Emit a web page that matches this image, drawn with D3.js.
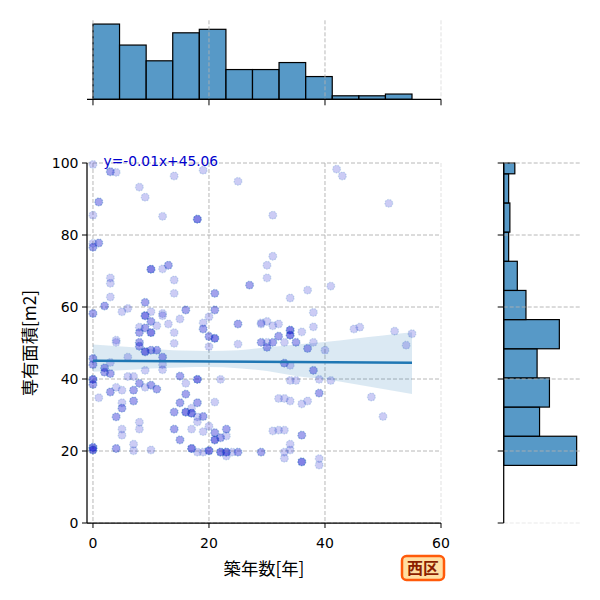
<!DOCTYPE html>
<html><head><meta charset="utf-8">
<script src="https://cdn.jsdelivr.net/npm/d3@7"></script>
<style>body{margin:0;background:#fff}svg{display:block}</style>
</head><body>
<svg id="c" width="600" height="600"></svg>
<script>
// ---- data ----
// scatter points: [築年数, 専有面積, overlap multiplicity]
const pts = [
[0,99.6,1],[3,97.6,2],[4,97.4,1],[14,96.4,1],[19,98.0,1],[25,94.9,1],[8,93.3,1],[9,90.5,1],[1,89.2,2],[0,85.5,1],
[12,85.2,1],[18,84.4,3],[0,76.6,2],[1,77.8,2],[0,77.7,1],[10,70.5,3],[12,70.6,1],[13,71.6,2],[3,68.1,1],[3,66.6,1],
[14,67.5,1],[14,63.8,1],[3,62.8,1],[21,63.8,2],[27,66.1,2],[2,60.3,2],[9,61.3,2],[0,58.2,2],[5,58.7,1],[6,59.6,1],
[9,57.6,3],[10,56.0,2],[10,58.7,1],[12,58.2,1],[12,57.6,1],[11,54.8,1],[13,55.3,1],[15,56.7,1],[16,59.2,2],[8,54.4,1],
[8,52.9,2],[9,54.2,2],[10,52.9,3],[14,52.9,1],[19,55.6,1],[19,53.9,2],[20,57.3,1],[21,59.2,2],[25,55.3,2],[29,55.3,1],
[20,51.8,2],[21,51.3,3],[4,50.8,1],[20,49.0,1],
[42,98.3,1],[43,96.4,1],[51,88.8,1],[31,85.5,1],[31,74.1,1],[30,71.6,1],[30,68.1,1],[37,64.7,1],[34,62.5,1],[41,65.8,1],
[38,58.5,1],[29,55.6,1],[30,56.0,1],[31,54.8,1],[32,55.3,1],[34,53.6,3],[34,52.2,3],[36,53.1,1],[38,54.5,1],[45,53.9,1],
[46,54.4,1],[52,53.3,1],[55,52.6,1],[32,51.9,2],
[0,45.7,2],[0,44.0,2],[4,50.2,1],[8,50.2,2],[8,49.1,2],[9,47.6,3],[10,48.0,2],[11,48.0,2],[6,46.1,1],[12,46.1,2],
[12,44.0,1],[12,42.6,1],[9,42.4,1],[2,43.1,2],[2,41.9,2],[3,41.5,2],[3,44.6,1],[6,40.7,1],[7,40.7,1],[0,39.9,3],
[0,38.5,2],[3,36.4,2],[4,37.7,1],[5,36.9,1],[7,36.9,2],[8,38.8,2],[9,37.7,1],[10,38.3,2],[11,37.2,2],[1,34.8,1],
[5,33.4,1],[5,31.9,2],[4,29.5,2],[7,33.9,2],[5,26.1,1],[5,24.4,1],[8,28.0,1],[8,26.1,1],[0,21.0,3],[0,20.3,3],
[4,20.7,2],[7,21.9,1],[7,20.1,1],[10,20.3,1],[15,40.8,2],[16,38.8,1],[18,39.9,3],[22,39.9,1],[16,35.8,2],[15,33.4,2],
[18,33.4,2],[21,33.6,1],[14,30.8,2],[16,30.8,3],[17,30.5,3],[17,31.9,1],[18,29.5,1],[18,28.1,1],[19,29.6,2],[14,26.1,2],
[17,26.1,1],[19,25.4,1],[20,26.9,1],[21,25.1,2],[21,23.1,3],[22,23.7,2],[23,26.1,2],[23,24.2,1],[15,23.1,2],[17,20.7,3],
[18,19.7,1],[19,19.7,1],[20,20.1,3],[22,19.7,3],[23,19.7,3],[23,18.6,1],[24,19.7,1],[25,19.7,2],[29,19.7,2],[14,49.9,1],
[25,49.7,1],[29,50.2,2],
[30,50.2,1],[30,48.8,2],[31,50.2,2],[33,50.2,1],[35,50.2,2],[37,48.5,2],[38,50.2,1],[40,48.0,1],[54,49.4,1],[33,44.4,2],
[34,43.8,1],[38,42.4,2],[34,39.6,1],[35,39.6,1],[39,39.9,1],[41,39.6,1],[39,36.1,2],[32,34.6,1],[33,34.6,1],[34,33.9,1],
[36,33.1,1],[37,33.9,1],[48,35.0,1],[50,29.6,1],[31,25.6,1],[32,25.8,1],[33,25.8,1],[36,24.4,2],[34,21.9,1],[34,20.3,1],
[33,19.7,1],[33,18.0,1],[36,17.0,3],[39,17.9,1],[39,16.1,1]
];
// marginal histogram of 築年数
const xBinEdges = [0,4.58,9.17,13.75,18.33,22.92,27.5,32.08,36.67,41.25,45.83,50.42,55];
const xBinCounts = [43,31,22,38,40,17,17,21,13,2,2,3];
// marginal histogram of 専有面積
const yBinEdges = [16.0,24.1,32.2,40.3,48.4,56.5,64.6,72.7,80.8,88.9,97.0,105.1];
const yBinCounts = [59,29,37,27,45,18,11,4,5,4,9];
// regression line and its confidence band
const regSlope = -0.01, regIntercept = 45.06, regXRange = [0,55];
const bandX     = [0,5,10,15,20,25,30,35,40,45,50,55];
const bandUpper = [49.6,49.0,48.4,47.9,47.8,48.0,48.8,49.6,50.3,51.2,52.1,53.0];
const bandLower = [42.0,42.4,42.9,43.2,43.3,43.0,42.2,40.8,39.9,38.6,37.2,35.8];
const xTicks = [0,20,40,60];
const yTicks = [0,20,40,60,80,100];
const xLabel = "築年数[年]", yLabel = "専有面積[m2]";
const eqText = "y=-0.01x+45.06";
const areaLabel = "西区";

// ---- drawing ----
const svg = d3.select("#c");
const L=87, R=441, T=163, B=523;
const x = d3.scaleLinear().domain([-1.03,60]).range([L,R]);
const y = d3.scaleLinear().domain([0,100]).range([B,T]);
const topB = 99.3, topT = 20.3;
const hy = d3.scaleLinear().domain([0, d3.max(xBinCounts)*1.05]).range([topB, topT]);
const rL = 503.7, rR = 580.3;
const hx = d3.scaleLinear().domain([0, d3.max(yBinCounts)*1.05]).range([rL, rR]);
const numFont = "'DejaVu Sans', sans-serif";
const jpFont = "'Noto Sans CJK JP', 'DejaVu Sans', sans-serif";
const gridCol = "#b0b0b0", dash = "4,2";
const C0 = "#1f77b4";

// main grid
const g = svg.append("g");
xTicks.forEach(t => g.append("line").attr("x1",x(t)).attr("x2",x(t)).attr("y1",T).attr("y2",B)
  .attr("stroke",gridCol).attr("stroke-width",0.9).attr("stroke-dasharray",dash).attr("opacity", t===60?0.4:1));
yTicks.forEach(t => g.append("line").attr("x1",L).attr("x2",R).attr("y1",y(t)).attr("y2",y(t))
  .attr("stroke",gridCol).attr("stroke-width",0.9).attr("stroke-dasharray",dash));

// CI band
const bandData = bandX.map((v,i)=>({x:v,lo:bandLower[i],hi:bandUpper[i]}));
g.append("path").datum(bandData)
  .attr("d", d3.area().x(d=>x(d.x)).y0(d=>y(d.lo)).y1(d=>y(d.hi)).curve(d3.curveMonotoneX))
  .attr("fill", C0).attr("fill-opacity",0.16);

// points
const flat = [];
pts.forEach(p => { for (let k=0;k<p[2];k++) flat.push(p); });
g.append("g").selectAll("circle").data(flat).join("circle")
  .attr("cx", d=>x(d[0])).attr("cy", d=>y(d[1])).attr("r",3.9)
  .attr("fill","#0000cd").attr("fill-opacity",0.2)
  .attr("stroke",C0).attr("stroke-opacity",0.2).attr("stroke-width",1.3).attr("stroke-dasharray","1.5,1.2");

// regression line
g.append("line").attr("x1",x(regXRange[0])).attr("x2",x(regXRange[1]))
  .attr("y1",y(regSlope*regXRange[0]+regIntercept)).attr("y2",y(regSlope*regXRange[1]+regIntercept))
  .attr("stroke",C0).attr("stroke-width",2.6);

// spines & ticks
const ax = svg.append("g").attr("stroke","#000");
ax.append("line").attr("x1",L).attr("x2",L).attr("y1",T).attr("y2",B).attr("stroke-width",1.25);
ax.append("line").attr("x1",L).attr("x2",R).attr("y1",B).attr("y2",B).attr("stroke-width",1.25);
xTicks.forEach(t => ax.append("line").attr("x1",x(t)).attr("x2",x(t)).attr("y1",B).attr("y2",B+5).attr("stroke-width",1));
yTicks.forEach(t => ax.append("line").attr("x1",L).attr("x2",L-5).attr("y1",y(t)).attr("y2",y(t)).attr("stroke-width",1));

const tx = svg.append("g").attr("font-family",numFont).attr("font-size",14).attr("fill","#000");
xTicks.forEach(t => tx.append("text").attr("x",x(t)).attr("y",548).attr("text-anchor","middle").text(t));
yTicks.forEach(t => tx.append("text").attr("x",L-8.5).attr("y",y(t)+5).attr("text-anchor","end").text(t));

svg.append("text").attr("x",(L+R)/2).attr("y",575).attr("text-anchor","middle")
  .attr("font-family",jpFont).attr("font-size",17.3).text(xLabel);
svg.append("text").attr("transform",`translate(36,${(T+B)/2}) rotate(-90)`).attr("text-anchor","middle")
  .attr("font-family",jpFont).attr("font-size",17.3).text(yLabel);

// equation
svg.append("text").attr("x",103.5).attr("y",166).attr("font-family",numFont).attr("font-size",13.8)
  .attr("fill","#0000cd").text(eqText);

// top marginal histogram
const tg = svg.append("g");
tg.selectAll("rect").data(xBinCounts).join("rect")
  .attr("x",(d,i)=>x(xBinEdges[i])).attr("width",(d,i)=>x(xBinEdges[i+1])-x(xBinEdges[i]))
  .attr("y",d=>hy(d)).attr("height",d=>topB-hy(d))
  .attr("fill",C0).attr("fill-opacity",0.75).attr("stroke","#000").attr("stroke-width",1.2);
xTicks.forEach(t => tg.append("line").attr("x1",x(t)).attr("x2",x(t)).attr("y1",topT).attr("y2",topB)
  .attr("stroke",gridCol).attr("stroke-width",0.9).attr("stroke-dasharray",dash).attr("opacity", t===60?0.4:1));
tg.append("line").attr("x1",L).attr("x2",R).attr("y1",topB).attr("y2",topB).attr("stroke","#000").attr("stroke-width",1.25);
xTicks.forEach(t => tg.append("line").attr("x1",x(t)).attr("x2",x(t)).attr("y1",topB).attr("y2",topB+6).attr("stroke","#000").attr("stroke-width",1));

// right marginal histogram
const rg = svg.append("g");
rg.selectAll("rect").data(yBinCounts).join("rect")
  .attr("x",rL).attr("width",d=>hx(d)-rL)
  .attr("y",(d,i)=>Math.max(T, y(yBinEdges[i+1])))
  .attr("height",(d,i)=>y(yBinEdges[i]) - Math.max(T, y(yBinEdges[i+1])))
  .attr("fill",C0).attr("fill-opacity",0.75).attr("stroke","#000").attr("stroke-width",1.2);
yTicks.forEach(t => rg.append("line").attr("x1",rL).attr("x2",rR).attr("y1",y(t)).attr("y2",y(t))
  .attr("stroke",gridCol).attr("stroke-width",0.9).attr("stroke-dasharray",dash).attr("opacity", t===0?0.3:1));
rg.append("line").attr("x1",rL).attr("x2",rL).attr("y1",T).attr("y2",B).attr("stroke","#000").attr("stroke-width",1.25);
yTicks.forEach(t => rg.append("line").attr("x1",rL).attr("x2",rL-6).attr("y1",y(t)).attr("y2",y(t)).attr("stroke","#000").attr("stroke-width",1));

// area label box
const lb = svg.append("g");
lb.append("rect").attr("x",402).attr("y",556).attr("width",42).attr("height",24).attr("rx",4.5)
  .attr("fill","#ffdfa3").attr("stroke","#ff5a0a").attr("stroke-width",2.5);
lb.append("text").attr("x",423).attr("y",574).attr("text-anchor","middle").attr("font-family",jpFont)
  .attr("font-weight","bold").attr("font-size",16).attr("fill","#8b1e00").text(areaLabel);
</script>
</body></html>
